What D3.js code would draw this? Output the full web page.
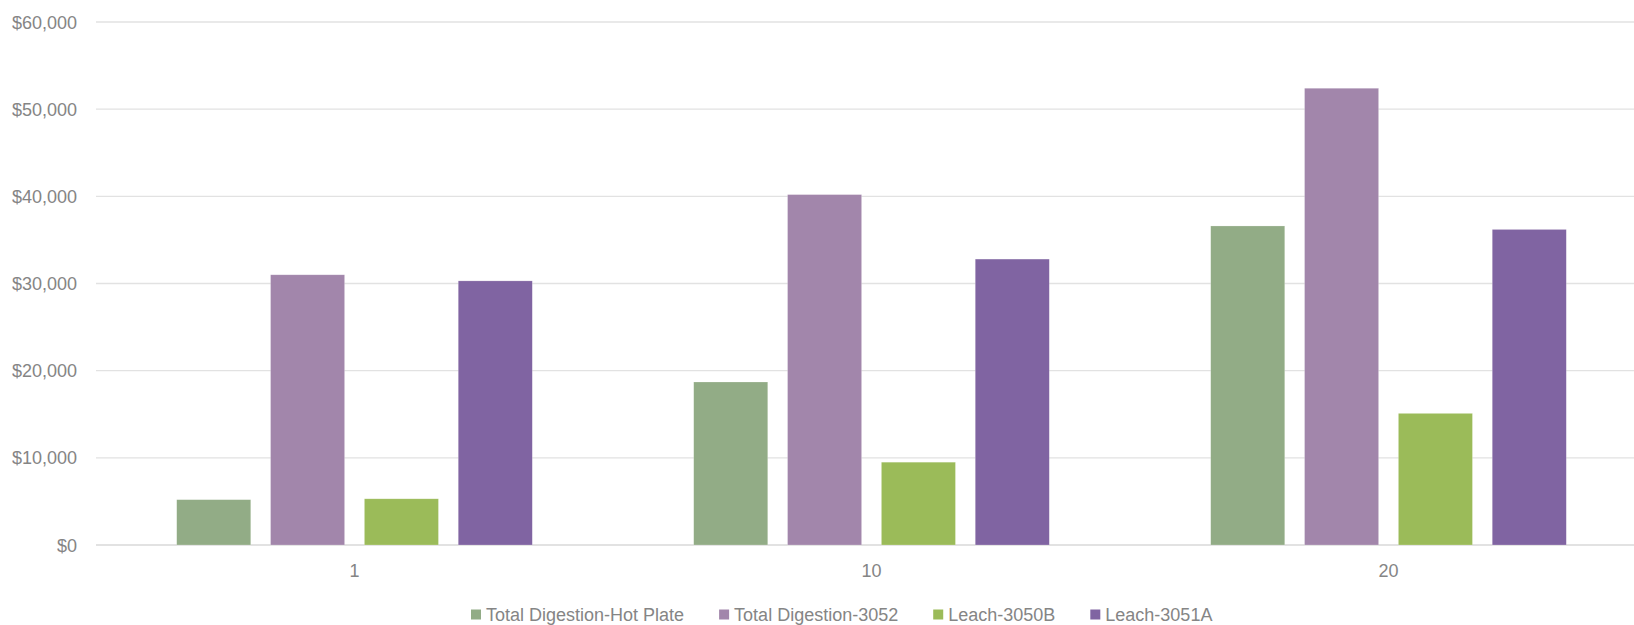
<!DOCTYPE html>
<html>
<head>
<meta charset="utf-8">
<script src="https://cdn.jsdelivr.net/npm/d3@7"></script>
<style>
  body { margin: 0; background: #ffffff; }
  svg text { font-family: "Liberation Sans", Arial, sans-serif; fill: #858585; }
</style>
</head>
<body>
<svg id="bar_svg" width="1634" height="625"></svg>
<script>
// chart data
var categories = ["1", "10", "20"]
var seriesNames = ["Total Digestion-Hot Plate", "Total Digestion-3052", "Leach-3050B", "Leach-3051A"]
var hotPlate = [5200, 18700, 36600]
var digest3052 = [31000, 40200, 52400]
var leach3050B = [5300, 9500, 15100]
var leach3051A = [30300, 32800, 36200]
var yTicks = [0, 10000, 20000, 30000, 40000, 50000, 60000]
var colors = ["#92ac86", "#a286ab", "#9bbb59", "#8064a2"]

var barsvg, x0, x1, y

document.addEventListener('DOMContentLoaded', function()
{
    barsvg = d3.select("#bar_svg")
    var allSeries = [hotPlate, digest3052, leach3050B, leach3051A]

    // flatten into rows for the bars
    var rows = []
    categories.forEach((c, i) => {
        seriesNames.forEach((s, j) => rows.push({cat: c, series: s, value: allSeries[j][i], color: colors[j]}))
    })

    // plot area runs a bit past the right edge, same as the original export
    x0 = d3.scaleBand().domain(categories).range([96, 1647])
    x1 = d3.scaleBand().domain(seriesNames).range([0, x0.bandwidth()])
            .paddingInner(0.211).paddingOuter(0.86)
    y = d3.scaleLinear().domain([0, 60000]).range([545, 22])

    // gridlines
    barsvg.selectAll(".grid")
        .data(yTicks)
        .join("line")
        .attr("class", "grid")
        .attr("x1", 96)
        .attr("x2", 1634)
        .attr("y1", d => y(d))
        .attr("y2", d => y(d))
        .attr("stroke", d => d == 0 ? "#d9d9d9" : "#e2e2e2")
        .attr("stroke-width", 1.3)

    // y labels
    barsvg.selectAll(".ylabel")
        .data(yTicks)
        .join("text")
        .attr("class", "ylabel")
        .attr("text-anchor", "end")
        .attr("x", 77)
        .attr("y", d => y(d) + 6.5)
        .style("font-size", "18px")
        .text(d => "$" + d3.format(",")(d))

    barsvg.selectAll(".bar")
        .data(rows)
        .join("rect")
        .attr("class", "bar")
        .attr("x", d => x0(d.cat) + x1(d.series))
        .attr("width", x1.bandwidth())
        .attr("y", d => y(d.value))
        .attr("height", d => y(0) - y(d.value))
        .attr("fill", d => d.color)
        .attr("stroke", "#ffffff")
        .attr("stroke-opacity", 0.35)
        .attr("stroke-width", 0.6)

    // x labels
    barsvg.selectAll(".xlabel")
        .data(categories)
        .join("text")
        .attr("class", "xlabel")
        .attr("text-anchor", "middle")
        .attr("x", d => x0(d) + x0.bandwidth() / 2)
        .attr("y", 577)
        .style("font-size", "18px")
        .text(d => d)

    legends()
})

function legends()
{
    var xpos = 471
    seriesNames.forEach((s, i) => {
        var g = barsvg.append("g").attr("class", "legend-item")
        g.append("rect")
            .attr("x", xpos)
            .attr("y", 609.5)
            .attr("width", 10)
            .attr("height", 10)
            .attr("fill", colors[i])
        var t = g.append("text")
            .attr("x", xpos + 15)
            .attr("y", 621)
            .style("font-size", "18px")
            .text(s)
        xpos += 15 + t.node().getComputedTextLength() + 35
    })
}
</script>
</body>
</html>
